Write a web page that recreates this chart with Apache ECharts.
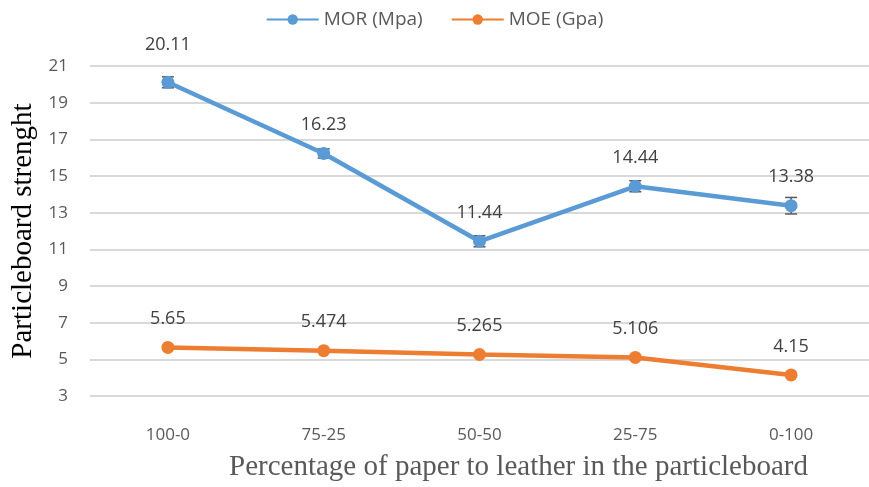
<!DOCTYPE html>
<html><head><meta charset="utf-8">
<script src="https://cdn.jsdelivr.net/npm/echarts@6/dist/echarts.min.js"></script>
<style>html,body{margin:0;padding:0;background:#fff;overflow:hidden}#c{width:869px;height:487px}</style>
</head><body><div id="c"></div>
<script>
const categories = ['100-0','75-25','50-50','25-75','0-100'];
const morValues = [20.11, 16.23, 11.44, 14.44, 13.38];
const moeValues = [5.65, 5.474, 5.265, 5.106, 4.15];
const morErrors = [0.3, 0.25, 0.3, 0.3, 0.45];
const yTicks = [3,5,7,9,11,13,15,17,19,21];

const chart = echarts.init(document.getElementById('c'));
function errSeries(vals, errs) {
  return {
    type: 'custom', z: 1, silent: true,
    renderItem: function (params, api) {
      const i = api.value(0);
      const hi = api.coord([i, api.value(1) + api.value(3)]);
      const lo = api.coord([i, api.value(1) - api.value(3)]);
      const w = 6;
      const st = {stroke: '#595959', lineWidth: 1.5};
      return {type: 'group', children: [
        {type: 'line', shape: {x1: hi[0], y1: hi[1], x2: lo[0], y2: lo[1]}, style: st},
        {type: 'line', shape: {x1: hi[0]-w, y1: hi[1], x2: hi[0]+w, y2: hi[1]}, style: st},
        {type: 'line', shape: {x1: lo[0]-w, y1: lo[1], x2: lo[0]+w, y2: lo[1]}, style: st}
      ]};
    },
    data: vals.map((v, i) => [i, v, 0, errs[i]])
  };
}
const labelFont = {fontSize: 18, color: '#404040', fontFamily: 'Open Sans, Liberation Sans'};
chart.setOption({
  animation: false,
  legend: {
    top: 5, left: 'center', itemGap: 28, itemWidth: 52, itemHeight: 13,
    textStyle: {fontFamily: 'Open Sans, Liberation Sans', fontSize: 19, color: '#595959'},
    data: ['MOR (Mpa)', 'MOE (Gpa)']
  },
  grid: {left: 90, top: 66, width: 789, height: 331, containLabel: false},
  xAxis: {
    type: 'category', data: categories, boundaryGap: true,
    axisLine: {show: false}, axisTick: {show: false},
    axisLabel: {margin: 31, fontSize: 17, color: '#595959', fontFamily: 'Open Sans, Liberation Sans'},
    name: 'Percentage of paper to leather in the particleboard',
    nameLocation: 'middle', nameGap: 57,
    nameTextStyle: {fontFamily: 'Liberation Serif', fontSize: 29, color: '#595959', padding: [0,0,0,78]}
  },
  yAxis: {
    type: 'value', min: 3, max: 21, interval: 2,
    axisLine: {show: false}, axisTick: {show: false},
    axisLabel: {margin: 22, fontSize: 17, color: '#595959', fontFamily: 'Open Sans, Liberation Sans',
      formatter: v => yTicks.includes(v) ? String(v) : ''},
    splitLine: {lineStyle: {color: '#d9d9d9', width: 2}},
    name: 'Particleboard strenght', nameLocation: 'middle', nameGap: 46,
    nameTextStyle: {fontFamily: 'Liberation Serif', fontSize: 29, color: '#000'}
  },
  series: [
    {
      name: 'MOR (Mpa)', type: 'line', z: 2,
      data: morValues.map((v, i) => i === 0 ? {value: v, label: {distance: 22}} : v),
      symbol: 'circle', symbolSize: 13,
      lineStyle: {color: '#5b9bd5', width: 4.5}, itemStyle: {color: '#5b9bd5'},
      label: Object.assign({show: true, position: 'top', distance: 13,
        formatter: p => String(morValues[p.dataIndex])}, labelFont)
    },
    {
      name: 'MOE (Gpa)', type: 'line', data: moeValues, z: 2,
      symbol: 'circle', symbolSize: 13,
      lineStyle: {color: '#ed7d31', width: 4.5}, itemStyle: {color: '#ed7d31'},
      label: Object.assign({show: true, position: 'top', distance: 13,
        formatter: p => String(moeValues[p.dataIndex])}, labelFont)
    },
    errSeries(morValues, morErrors)
  ]
});
</script></body></html>
